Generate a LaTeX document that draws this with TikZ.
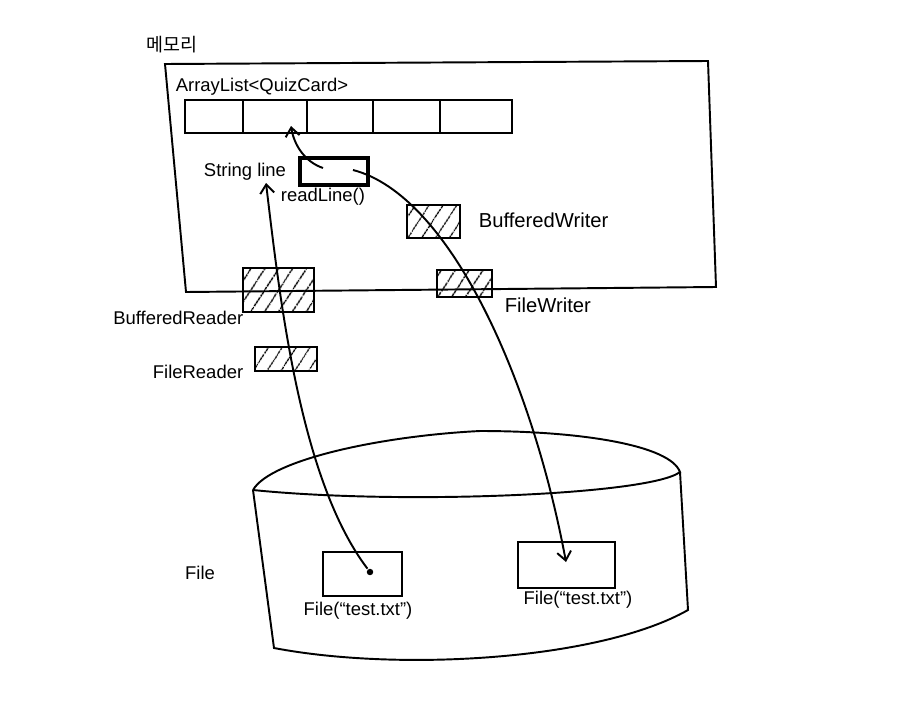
\documentclass[tikz,border=0pt]{standalone}
\usepackage{fontspec}
\setmainfont{Liberation Sans}
\newfontfamily\krfont{Noto Sans CJK KR}
\usetikzlibrary{patterns.meta,arrows.meta}

\begin{document}
\begin{tikzpicture}[x=0.02cm, y=-0.02cm, line width=1.1pt,
    font=\fontsize{10.5}{12}\selectfont,
    >={Straight Barb[length=5pt,width=8pt]},
    box/.style={draw, rectangle, inner sep=0pt},
    hatchbox/.style={box, pattern={Lines[angle=57, distance=6.5pt, line width=0.8pt]}}]
    \useasboundingbox (0,0) rectangle (899,720);

    % 메모리
    \node (memlabel) at (172,45) {\krfont 메모리};
    \draw (165,64) -- (708,61) -- (716,287) -- (186,292) -- cycle;

    % ArrayList
    \node (listlabel) at (262,87) {ArrayList<QuizCard>};
    \node[box, minimum width=6.54cm, minimum height=0.66cm] (array) at (348.5,116.5) {};
    \foreach \x in {243,307,373,440}
        \draw (\x,0 |- array.north) -- (\x,0 |- array.south);

    % String line
    \node (strlabel) at (245,172) {String line};
    \node[box, line width=1.8pt, minimum width=1.36cm, minimum height=0.54cm] (linebox) at (334,171.5) {};
    \node (readlabel) at (323,197) {readLine()};

    % 스트림
    \node[hatchbox, minimum width=1.06cm, minimum height=0.66cm] (bwriter) at (433.5,221.5) {};
    \node[hatchbox, minimum width=1.1cm, minimum height=0.54cm] (fwriter) at (464.5,283.5) {};
    \node[hatchbox, minimum width=1.42cm, minimum height=0.88cm] (breader) at (278.5,290) {};
    \node[hatchbox, minimum width=1.24cm, minimum height=0.48cm] (freader) at (286,359) {};

    \node[anchor=west, font=\fontsize{11.5}{13}\selectfont] (bwlabel) at (472,220) {BufferedWriter};
    \node[anchor=west, font=\fontsize{11.5}{13}\selectfont] (fwlabel) at (498,305) {FileWriter};
    \node[anchor=east] (brlabel) at (250,318) {BufferedReader};
    \node[anchor=east] (frlabel) at (250,372) {FileReader};

    % File
    \node (filelabel) at (200,573) {File};
    \draw (253,490) .. controls (270,460) and (380,436) .. (480,431)
        .. controls (580,431) and (670,445) .. (680,472)
        .. controls (650,495) and (400,505) .. (253,490);
    \draw (253,490) -- (274,648) .. controls (400,672) and (600,660) .. (688,610) -- (680,472);

    \node[box, minimum width=1.58cm, minimum height=0.88cm] (rfile) at (362.5,574) {};
    \node[box, minimum width=1.94cm, minimum height=0.92cm] (wfile) at (566.5,565) {};
    \node (rfilelabel) at (358,611) {File(``test.txt'')};
    \node (wfilelabel) at (578,600) {File(``test.txt'')};

    % 화살표
    \node[circle, fill, inner sep=1.3pt] (rdot) at (370,572) {};
    \coordinate (readtip) at (266,183);
    \coordinate (liststart) at (323,168);
    \coordinate (listtip) at (291,126);
    \coordinate (wstart) at (353,170);
    \coordinate (wtip) at (566,562);

    \draw[->] (rdot) .. controls (300,480) and (280,300) .. (readtip);
    \draw[->] (liststart) .. controls (305,162) and (294,145) .. (listtip);
    \draw[->] (wstart) .. controls (450,195) and (532,380) .. (wtip);
\end{tikzpicture}
\end{document}
